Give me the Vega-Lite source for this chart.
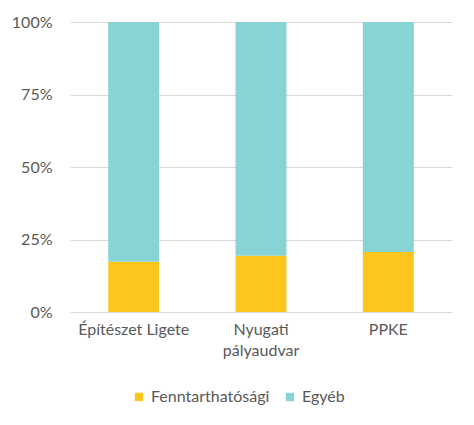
{
  "$schema": "https://vega.github.io/schema/vega-lite/v6.json",
  "width": 382,
  "height": 290,
  "autosize": {"type": "none"},
  "padding": {"left": 70, "top": 22, "right": 22, "bottom": 113},
  "background": "white",
  "config": {
    "view": {"stroke": null},
    "font": "Lato",
    "axis": {"labelFont": "Lato", "labelColor": "#595959", "labelFontSize": 16},
    "legend": {"labelFont": "Lato", "labelColor": "#595959", "labelFontSize": 16}
  },
  "data": {
    "values": [
      {"hely": "Építészet Ligete", "tipus": "Fenntarthatósági", "rend": 1, "arany": 17.3},
      {"hely": "Építészet Ligete", "tipus": "Egyéb", "rend": 2, "arany": 82.7},
      {"hely": "Nyugati pályaudvar", "tipus": "Fenntarthatósági", "rend": 1, "arany": 19.4},
      {"hely": "Nyugati pályaudvar", "tipus": "Egyéb", "rend": 2, "arany": 80.6},
      {"hely": "PPKE", "tipus": "Fenntarthatósági", "rend": 1, "arany": 20.7},
      {"hely": "PPKE", "tipus": "Egyéb", "rend": 2, "arany": 79.3}
    ]
  },
  "mark": {"type": "bar"},
  "encoding": {
    "x": {
      "field": "hely",
      "type": "nominal",
      "sort": null,
      "title": null,
      "scale": {"paddingInner": 0.6, "paddingOuter": 0.3},
      "axis": {
        "labelAngle": 0,
        "domain": false,
        "ticks": false,
        "labelPadding": 9,
        "labelExpr": "datum.label == 'Nyugati pályaudvar' ? ['Nyugati', 'pályaudvar'] : datum.label",
        "labelLineHeight": 21
      }
    },
    "y": {
      "field": "arany",
      "type": "quantitative",
      "stack": "normalize",
      "title": null,
      "axis": {
        "values": [0, 0.25, 0.5, 0.75, 1],
        "format": ".0%",
        "domain": false,
        "ticks": false,
        "labelPadding": 18,
        "gridColor": "#d9d9d9"
      }
    },
    "color": {
      "field": "tipus",
      "type": "nominal",
      "title": null,
      "scale": {"domain": ["Fenntarthatósági", "Egyéb"], "range": ["#FCC61F", "#88D3D3"]},
      "legend": {"orient": "none", "legendX": 61, "legendY": 367, "direction": "horizontal", "symbolType": "square", "symbolSize": 70, "columnPadding": 12, "labelOffset": 4}
    },
    "order": {"field": "rend", "sort": "ascending"}
  }
}
